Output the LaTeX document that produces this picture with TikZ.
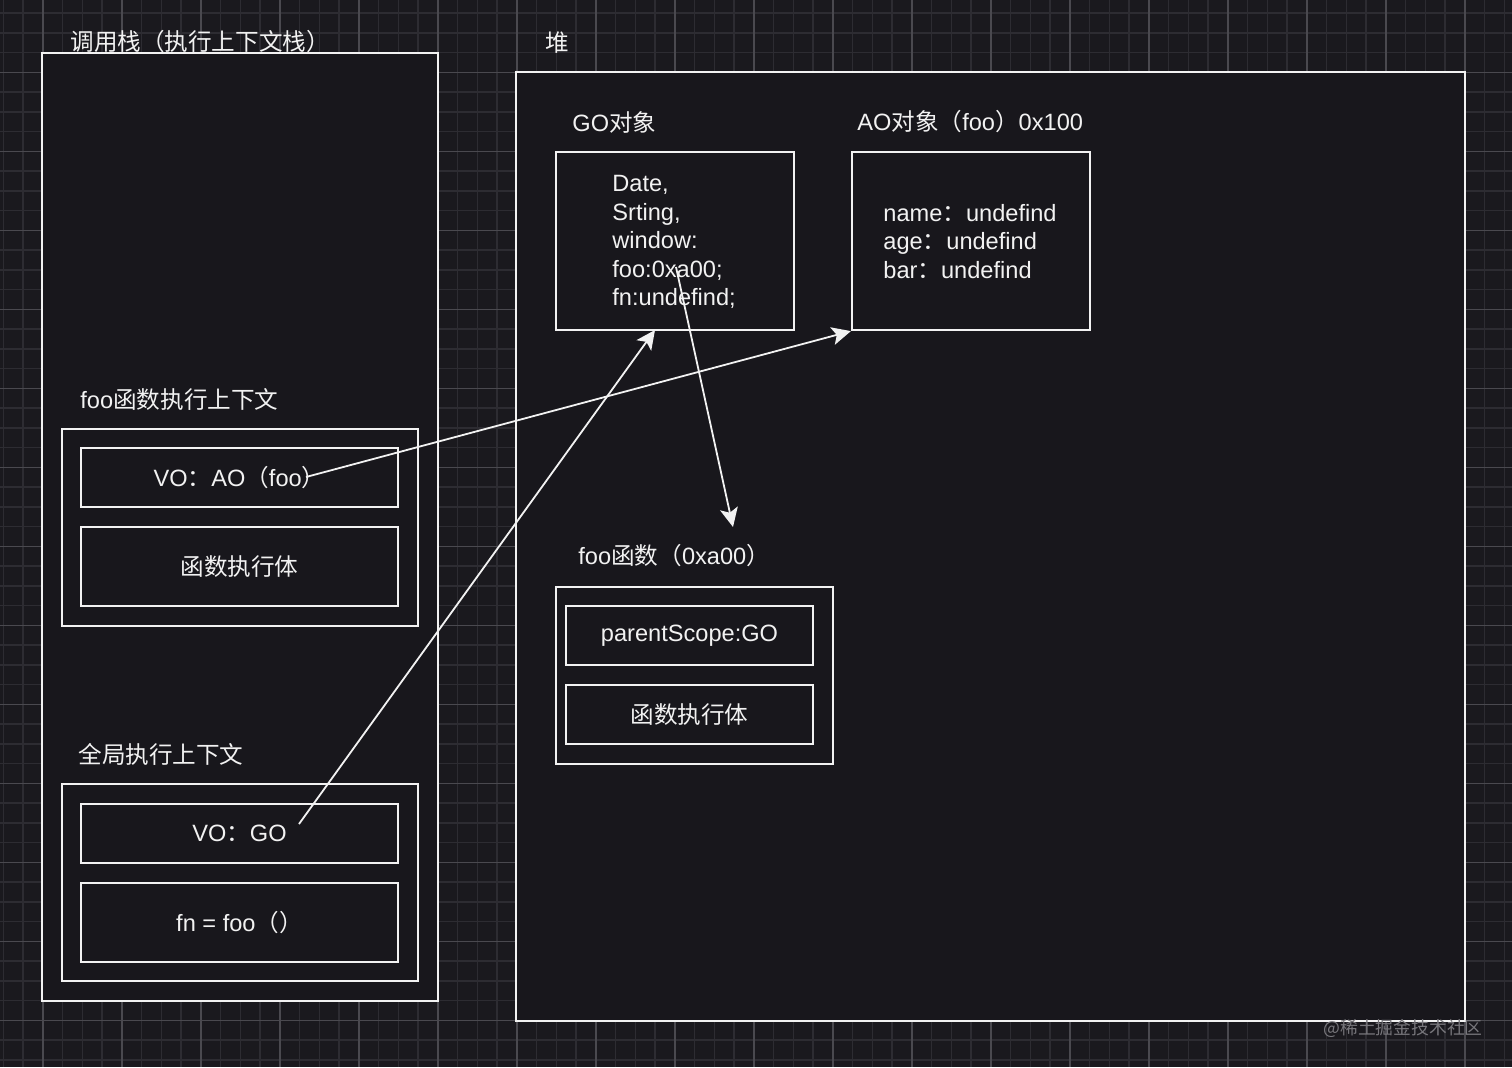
\documentclass[tikz,border=0pt]{standalone}
\usepackage{fontspec}
\setmainfont{Liberation Sans}
\newfontfamily\cjk{Noto Sans CJK SC}
\usetikzlibrary{arrows.meta}
\definecolor{bg}{HTML}{1A191E}
\definecolor{boxbg}{HTML}{18171C}
\definecolor{gridminor}{HTML}{2D2C32}
\definecolor{gridmajor}{HTML}{4A494F}
\definecolor{ink}{HTML}{F2F2F2}
\definecolor{wmcol}{HTML}{77767B}
\begin{document}
\begin{tikzpicture}[x=0.5pt,y=-0.5pt,
  box/.style={draw=ink, line width=1.1pt, fill=boxbg, inner sep=0pt, text=ink,
    font=\fontsize{11.8}{14.2}\selectfont},
  title/.style={anchor=west, inner sep=0pt, text=ink, font=\fontsize{11.8}{14.2}\selectfont},
  link/.style={draw=ink, line width=0.9pt, -{Stealth[length=9.5pt,width=9pt,inset=2.2pt]}}]
\fill[bg] (0,0) rectangle (1512,1067);
\useasboundingbox (0,0) rectangle (1512,1067);
\begin{scope}
  \clip (0,0) rectangle (1512,1067);
  \foreach \i in {0,...,76} \draw[gridminor, line width=0.75pt] (3.4+19.75*\i,0) -- (3.4+19.75*\i,1067);
  \foreach \i in {0,...,53} \draw[gridminor, line width=0.75pt] (0,13.05+19.75*\i) -- (1512,13.05+19.75*\i);
  \foreach \i in {0,...,19} \draw[gridmajor, line width=0.75pt] (-36.1+79*\i,0) -- (-36.1+79*\i,1067);
  \foreach \i in {0,...,14} \draw[gridmajor, line width=0.75pt] (0,-6.7+79*\i) -- (1512,-6.7+79*\i);
\end{scope}

% main containers
\node[box, minimum width=198pt, minimum height=474pt] (stack) at (240,527) {};
\node[box, minimum width=474.5pt, minimum height=474.5pt] (heap) at (990.5,546.5) {};

% call stack contents
\node[box, minimum width=178pt, minimum height=98.5pt] (fooctx) at (240,527.5) {};
\node[box, minimum width=158.5pt, minimum height=29.5pt] (voao) at (239.5,477.5) {VO{\cjk ：}AO{\cjk （}foo{\cjk ）}};
\node[box, minimum width=158.5pt, minimum height=39.5pt] (foobody) at (239.5,566.5) {{\cjk 函数执行体}};
\node[box, minimum width=178pt, minimum height=98.5pt] (globctx) at (240,882.5) {};
\node[box, minimum width=158.5pt, minimum height=29.5pt] (vogo) at (239.5,833.5) {VO{\cjk ：}GO};
\node[box, minimum width=158.5pt, minimum height=39.5pt] (fncall) at (239.5,922.5) {fn = foo{\cjk （）}};

% heap contents
\node[box, minimum width=119pt, minimum height=89pt] (go) at (675,241) {};
\node[box, minimum width=119pt, minimum height=89pt] (ao) at (971,241) {};
\node[box, minimum width=138.5pt, minimum height=88.5pt] (foofn) at (694.5,675.5) {};
\node[box, minimum width=123.5pt, minimum height=29.5pt] (pscope) at (689.5,635.5) {parentScope:GO};
\node[box, minimum width=123.5pt, minimum height=29.5pt] (fnbody) at (689.5,714.5) {{\cjk 函数执行体}};

\node[title, align=left] (gotext) at (612,242) {Date,\\Srting,\\window:\\foo:0xa00;\\fn:undefind;};
\node[title, align=left] (aotext) at (883,241.5) {name{\cjk ：}undefind\\age{\cjk ：}undefind\\bar{\cjk ：}undefind};

% titles
\node[title] (stacktitle) at (70,42) {{\cjk 调用栈（执行上下文栈）}};
\node[title] (heaptitle) at (545,43) {{\cjk 堆}};
\node[title] (gotitle) at (572,122) {GO{\cjk 对象}};
\node[title] (aotitle) at (857,122) {AO{\cjk 对象（}foo{\cjk ）}0x100};
\node[title] (fooctxtitle) at (80,399) {foo{\cjk 函数执行上下文}};
\node[title] (globtitle) at (78,754) {{\cjk 全局执行上下文}};
\node[title] (foofntitle) at (578,556) {foo{\cjk 函数（}0xa00{\cjk ）}};

% watermark
\node[anchor=west, inner sep=0pt, text=wmcol, font=\cjk\fontsize{8.9}{11}\selectfont] (wm) at (1323,1028) {@稀土掘金技术社区};

% connectors
\coordinate (aoref) at (306,477);
\coordinate (goref) at (299,824);
\coordinate (fooref) at (676,267);
\coordinate (goin) at (655,330);
\coordinate (fooin) at (733,527);
\draw[link] (aoref) -- (ao.south west);
\draw[link] (goref) -- (goin);
\draw[link] (fooref) -- (fooin);
\end{tikzpicture}
\end{document}
